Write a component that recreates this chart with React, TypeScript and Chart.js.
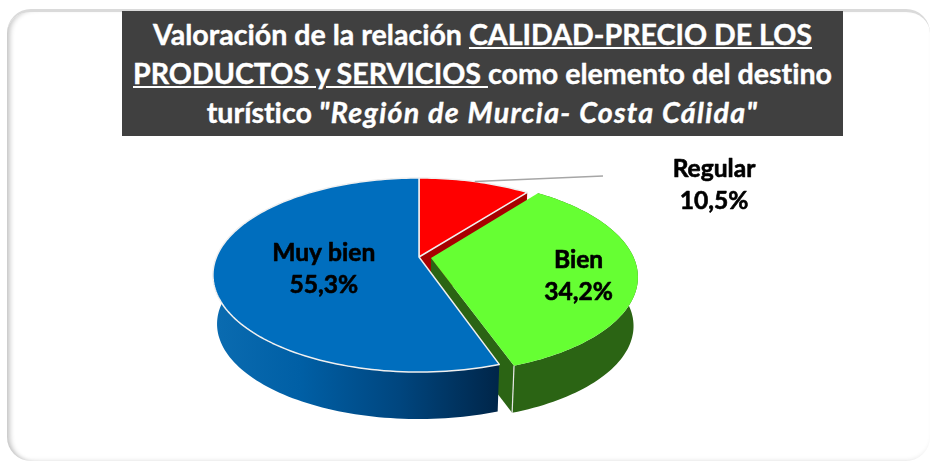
import React, { useEffect, useRef } from "react";
import { Chart, registerables } from "chart.js";

Chart.register(...registerables);

const categories = ["Regular", "Bien", "Muy bien"];
const shares = [10.5, 34.2, 55.3];
const topColors = ["#FF0000", "#66FF33", "#006EBE"];
const explode = [0, 12, 0];
const wallColors = ["#A80000", "#2B6414", "#00447A"];
const labelAnchors = [
  { x: 714, y: 185, size: 24.6 },
  { r: 0.72, dy: 7, size: 24.6 },
  { r: 0.47, dy: 5, size: 24.6 },
];

const FONT = "Lato, Carlito, 'Open Sans', sans-serif";
const PERSP = 0.1856;
const RX = 202.5;
const RY = 93.7;
const DEPTH = 49.3;
const BOTTOM_SCALE = 0.98;

type P = { x: number; y: number };

function project(arc: any, shift: { u: number; v: number }, theta: number, rad: number, low: boolean): P {
  const u = rad * Math.cos(theta) + shift.u;
  const v = rad * Math.sin(theta) + shift.v;
  const d = 1 - PERSP * v;
  const s = low ? BOTTOM_SCALE : 1;
  return {
    x: arc.x + (s * RX * u) / d,
    y: arc.y + (low ? DEPTH : 0) + (s * RY * v) / d,
  };
}

function shiftOf(arc: any) {
  const ex = (arc.options.offset || 0) / 200;
  const mid = (arc.startAngle + arc.endAngle) / 2;
  return { u: ex * Math.cos(mid), v: ex * Math.sin(mid) };
}

function arcPoints(arc: any, low: boolean): P[] {
  const sh = shiftOf(arc);
  const n = Math.max(8, Math.ceil((arc.endAngle - arc.startAngle) * 40));
  const pts: P[] = [];
  for (let i = 0; i <= n; i++) {
    const t = arc.startAngle + ((arc.endAngle - arc.startAngle) * i) / n;
    pts.push(project(arc, sh, t, 1, low));
  }
  return pts;
}

function path(ctx: CanvasRenderingContext2D, pts: P[]) {
  ctx.beginPath();
  pts.forEach((p, i) => (i ? ctx.lineTo(p.x, p.y) : ctx.moveTo(p.x, p.y)));
  ctx.closePath();
}

const pie3d = {
  id: "pie3d",
  beforeDatasetDraw(chart: any) {
    const ctx: CanvasRenderingContext2D = chart.ctx;
    const arcs = chart.getDatasetMeta(0).data;
    ctx.save();
    ctx.lineJoin = "round";
    arcs.forEach((arc: any, i: number) => {
      const sh = shiftOf(arc);
      const top = arcPoints(arc, false);
      const low = arcPoints(arc, true);
      const apexT = project(arc, sh, 0, 0, false);
      const apexL = project(arc, sh, 0, 0, true);

      // cut face seen at the slice's trailing edge
      if (i < 2) {
        const eT = top[top.length - 1];
        const eL = low[low.length - 1];
        path(ctx, [apexT, eT, eL, apexL]);
        ctx.fillStyle = wallColors[i];
        ctx.fill();
      }
      // outer rim
      if (i > 0) {
        path(ctx, [...top, ...low.slice().reverse()]);
        if (i === 2) {
          const g = ctx.createLinearGradient(216, 0, 497, 0);
          g.addColorStop(0, "#0A6BB0");
          g.addColorStop(0.3, "#005FA5");
          g.addColorStop(0.65, "#00467F");
          g.addColorStop(1, "#00264A");
          ctx.fillStyle = g;
        } else {
          ctx.fillStyle = wallColors[i];
        }
        ctx.fill();
      }
      // wall edge highlight
      if (i === 1) {
        const eT = top[top.length - 1];
        const eL = low[low.length - 1];
        ctx.strokeStyle = "#E8E8E8";
        ctx.lineWidth = 1.2;
        ctx.beginPath();
        ctx.moveTo(eT.x, eT.y);
        ctx.lineTo(eL.x, eL.y);
        ctx.stroke();
      }
      // top face
      path(ctx, [apexT, ...top]);
      ctx.fillStyle = arc.options.backgroundColor;
      ctx.fill();
      ctx.strokeStyle = arc.options.borderColor;
      ctx.lineWidth = arc.options.borderWidth;
      if (i !== 1) ctx.stroke();
    });

    // leader line for the outside label
    const reg = arcs[0];
    const mid = (reg.startAngle + reg.endAngle) / 2;
    const rim = project(reg, shiftOf(reg), mid, 1, false);
    ctx.strokeStyle = "#A6A6A6";
    ctx.lineWidth = 1.5;
    ctx.beginPath();
    ctx.moveTo(rim.x, rim.y);
    ctx.lineTo(603, 176);
    ctx.stroke();

    // data labels
    ctx.fillStyle = "#000000";
    ctx.strokeStyle = "#000000";
    ctx.lineWidth = 0.6;
    ctx.textAlign = "center";
    ctx.textBaseline = "middle";
    arcs.forEach((arc: any, i: number) => {
      const a: any = labelAnchors[i];
      const text = shares[i].toFixed(1).replace(".", ",") + "%";
      let x: number, y: number;
      if (a.r !== undefined) {
        const m = (arc.startAngle + arc.endAngle) / 2;
        const p = project(arc, shiftOf(arc), m, a.r, false);
        x = p.x;
        y = p.y + a.dy;
      } else {
        x = a.x;
        y = a.y;
      }
      ctx.font = `bold ${a.size}px ${FONT}`;
      const gap = a.size * 0.65;
      ctx.fillText(categories[i], x, y - gap);
      ctx.strokeText(categories[i], x, y - gap);
      ctx.fillText(text, x, y + gap);
      ctx.strokeText(text, x, y + gap);
    });
    ctx.restore();
    return false;
  },
};

export default function App() {
  const ref = useRef<HTMLCanvasElement | null>(null);
  useEffect(() => {
    document.body.style.margin = "0";
    const chart = new Chart(ref.current as HTMLCanvasElement, {
      type: "pie",
      data: {
        labels: categories,
        datasets: [
          {
            data: shares,
            backgroundColor: topColors,
            borderColor: "#F0F0F0",
            borderWidth: 1.5,
            offset: explode,
          },
        ],
      },
      options: {
        animation: false,
        responsive: false,
        layout: { padding: { left: 0, right: 92, top: 100, bottom: 49 } },
        plugins: { legend: { display: false }, tooltip: { enabled: false }, title: { display: false } },
      },
      plugins: [pie3d],
    } as any);
    return () => chart.destroy();
  }, []);

  const line: React.CSSProperties = { height: 39, lineHeight: "39px", whiteSpace: "pre" };
  return (
    <div style={{ position: "fixed", left: 0, top: 0, width: 930, height: 463, overflow: "hidden", background: "#fff" }}>
      <div
        style={{
          position: "absolute",
          left: 7,
          top: 9,
          width: 923,
          height: 452,
          boxSizing: "border-box",
          borderRadius: 24,
          borderTop: "3px solid #DADADA",
          boxShadow: "inset 6px 0 5px -3px rgba(0,0,0,0.22), inset 0 -3px 4px -2px rgba(0,0,0,0.08)",
        }}
      />
      <canvas ref={ref} width={930} height={463} style={{ position: "absolute", left: 0, top: 0 }} />
      <div
        style={{
          position: "absolute",
          left: 122,
          top: 11,
          width: 721,
          height: 125,
          paddingTop: 4,
          boxSizing: "border-box",
          background: "#404040",
          color: "#fff",
          font: `bold 28.6px ${FONT}`,
          fontVariantLigatures: "none",
          WebkitTextStroke: "0.4px #fff",
          textAlign: "center",
        }}
      >
        <div style={line}>
          Valoración de la relación <u>CALIDAD-PRECIO DE LOS</u>
        </div>
        <div style={line}>
          <u>PRODUCTOS y SERVICIOS </u>como elemento del destino
        </div>
        <div style={line}>
          turístico <i style={{ letterSpacing: 1.3 }}>"Región de Murcia- Costa Cálida"</i>
        </div>
      </div>
    </div>
  );
}
